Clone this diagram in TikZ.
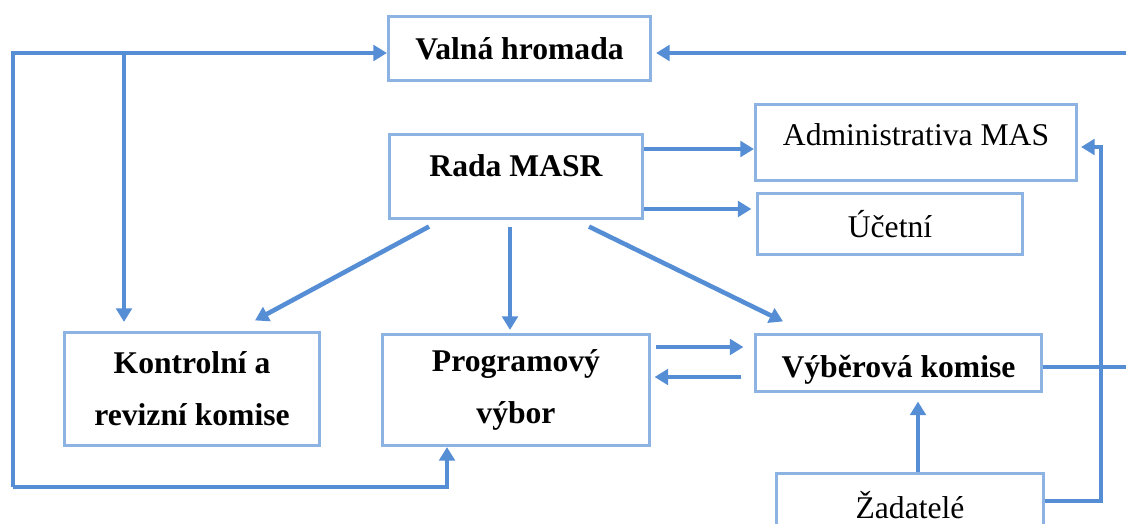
\documentclass[tikz,border=0pt]{standalone}
\usepackage{fontspec}
\setmainfont{Liberation Serif}
\usetikzlibrary{arrows.meta}
\definecolor{boxblue}{HTML}{8DB3E2}
\definecolor{lineblue}{HTML}{558ED5}

\begin{document}
\begin{tikzpicture}[x=0.02cm,y=-0.02cm,>={Triangle[length=0.27cm,width=0.31cm]},
    box/.style={draw=boxblue,line width=1.8pt,inner sep=0pt,align=center,
      font=\fontsize{18}{29.5}\selectfont},
    boldbox/.style={box,font=\fontsize{18}{29.5}\selectfont\bfseries},
    conn/.style={draw=lineblue,line width=2.6pt}]
    \useasboundingbox (0,0) rectangle (1126,524);
    % boxes
    \node[boldbox,minimum width=5.24cm,minimum height=1.28cm] (valna) at (519.5,48.5) {Valná hromada};
    \node[boldbox,minimum width=5.06cm,minimum height=1.68cm,text height=0.4cm,text depth=0.42cm] (rada) at (516,176.5) {Rada MASR};
    \node[box,minimum width=6.42cm,minimum height=1.52cm,text height=0.45cm,text depth=0.35cm] (admin) at (916,142.5) {Administrativa MAS};
    \node[box,minimum width=5.30cm,minimum height=1.22cm] (ucetni) at (890,224) {Účetní};
    \node[boldbox,minimum width=5.10cm,minimum height=2.26cm] (kontrol) at (192,389) {Kontrolní a\\revizní komise};
    \node[boldbox,minimum width=5.34cm,minimum height=2.22cm,yshift=-0.06cm] (program) at (516,387) {Programový\\výbor};
    \node[boldbox,minimum width=5.72cm,minimum height=1.14cm,text height=0.72cm,text depth=0.16cm] (vyber) at (898.5,363) {Výběrová komise};
    \node[box,minimum width=5.34cm,minimum height=1.26cm] (zadatel) at (910,505) {Žadatelé};
    % left loop
    \coordinate (lt) at (13,53);
    \coordinate (lb) at (13,487);
    \coordinate (kt) at (124,53);
    \coordinate (pb) at (447,487);
    \draw[conn,->] (lb) -- (lt) -- (lt -| valna.west);
    \draw[conn,->,shorten >=0.18cm] (kt) -- (kt |- kontrol.north);
    \draw[conn,->] (lb) -- (pb) -- (pb |- program.south);
    % right side
    \coordinate (rt) at (1130,53);
    \coordinate (rv) at (1130,367);
    \coordinate (zr) at (1101,501);
    \coordinate (ar) at (1101,147);
    \draw[conn,->,shorten >=0.08cm] (rv -| vyber.east) -- (rv) -- (rt) -- (rt -| valna.east);
    \draw[conn,->,shorten >=0.06cm] (zr -| zadatel.east) -- (zr) -- (ar) -- (ar -| admin.east);
    % from Rada MASR
    \coordinate (ra) at ([yshift=0.55cm]rada.east);
    \coordinate (ru) at ([yshift=-0.65cm]rada.east);
    \draw[conn,->] (ra) -- (ra -| admin.west);
    \draw[conn,->,shorten >=0.09cm] (ru) -- (ru -| ucetni.west);
    \draw[conn,->] ([xshift=-1.74cm,yshift=-0.13cm]rada.south) -- ([xshift=1.26cm,yshift=0.21cm]kontrol.north);
    \draw[conn,->] ([xshift=-0.12cm,yshift=-0.13cm]rada.south) -- ([xshift=-0.12cm,yshift=0.06cm]program.north);
    \draw[conn,->] ([xshift=1.46cm,yshift=-0.13cm]rada.south) -- ([xshift=-2.31cm,yshift=0.23cm]vyber.north);
    % between the committees
    \coordinate (pa) at ([yshift=0.86cm]program.east);
    \coordinate (pc) at ([yshift=0.26cm]program.east);
    \draw[conn,->,shorten <=0.1cm,shorten >=0.21cm] (pa) -- (pa -| vyber.west);
    \draw[conn,->,shorten <=0.25cm,shorten >=0.07cm] (pc -| vyber.west) -- (pc);
    \draw[conn,->,shorten >=0.17cm] ([xshift=0.16cm]zadatel.north) -- ([xshift=0.16cm]zadatel.north |- vyber.south);
\end{tikzpicture}
\end{document}
